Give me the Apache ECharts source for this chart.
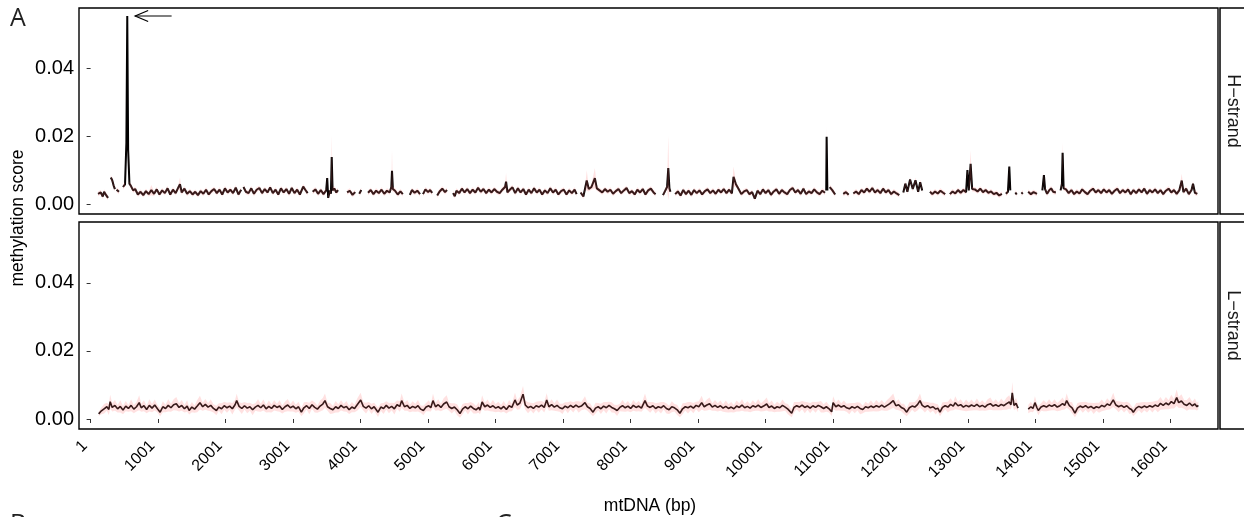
<!DOCTYPE html>
<html><head><meta charset="utf-8">
<script src="https://cdn.jsdelivr.net/npm/echarts@6/dist/echarts.min.js"></script>
<style>html,body{margin:0;padding:0;background:#fff}#c{width:1244px;height:517px}</style>
</head><body><div id="c"></div>
<script>
// ---- data ----
const xTicks = [1,1001,2001,3001,4001,5001,6001,7001,8001,9001,10001,11001,12001,13001,14001,15001,16001];
const yTicks = [0, 0.02, 0.04];
const strandNames = ['H\u2212strand', 'L\u2212strand'];
// [position (bp), methylation score, optional ribbon half-width]; null = gap
const hStrand = [
[110,0.0030],[150,0.0034],[180,0.0022],[200,0.0036],[230,0.0026],[258,0.0018],null,
[300,0.0078],[320,0.0070],[340,0.0055],[360,0.0044],null,
[385,0.0042],[420,0.0036],null,
[480,0.0050],[510,0.0058],[530,0.0180],[543,0.0553],[556,0.0160],[575,0.0060],[600,0.0052],[630,0.0040],[660,0.0044],[700,0.0028],[740,0.0036],[780,0.0026],[820,0.0038],[860,0.0029],[900,0.0041,0.0015],[940,0.0030],[980,0.0043],[1020,0.0028],[1060,0.0040],[1100,0.0032],[1140,0.0046],[1180,0.0028],[1220,0.0042],[1260,0.0032],[1300,0.0049],[1324,0.0058,0.002],[1350,0.0034],[1390,0.0045],[1430,0.0030],[1470,0.0038],[1510,0.0028],[1550,0.0036],[1590,0.0026],[1630,0.0038],[1670,0.0030],[1710,0.0042],[1750,0.0028],[1790,0.0038],[1830,0.0044],[1870,0.0032],[1910,0.0042],[1950,0.0028],[1990,0.0046],[2030,0.0034],[2070,0.0042],[2110,0.0032],[2150,0.0048],[2190,0.0028],[2230,0.0042],null,
[2265,0.0050],[2300,0.0036],[2340,0.0032],[2380,0.0046],[2420,0.0030],[2460,0.0042],[2500,0.0047],[2540,0.0032],[2580,0.0044],[2620,0.0034],[2660,0.0049],[2700,0.0032],[2740,0.0042],[2780,0.0028],[2820,0.0046],[2860,0.0034],[2900,0.0044],[2940,0.0030],[2980,0.0047],[3020,0.0032],[3060,0.0042],[3100,0.0028],[3150,0.0051],[3180,0.0042],[3215,0.0032],null,
[3290,0.0036],[3330,0.0043],[3370,0.0030],[3410,0.0041],[3450,0.0029],[3490,0.0040],[3505,0.0076],[3520,0.0018],[3545,0.0040],[3560,0.0030],[3572,0.0138,0.0065],[3585,0.0040],[3610,0.0046],[3640,0.0034],[3665,0.0041],null,
[3800,0.0034],[3840,0.0039],[3880,0.0027],[3920,0.0035],null,
[3980,0.0030],[4010,0.0041],null,
[4110,0.0033],[4150,0.0041],[4190,0.0029],[4230,0.0039],[4270,0.0032],[4310,0.0042],[4350,0.0030],[4390,0.0039],[4430,0.0034],[4455,0.0050],[4465,0.0098,0.006],[4478,0.0044],[4510,0.0039],[4550,0.0028],[4590,0.0037],[4625,0.0029],null,
[4730,0.0027],[4760,0.0041],[4800,0.0033],[4840,0.0039],[4880,0.0029],null,
[4925,0.0029],[4960,0.0043],[5000,0.0035],[5030,0.0041],[5060,0.0033],null,
[5135,0.0025],[5170,0.0037],[5210,0.0045],[5250,0.0035],[5280,0.0041],null,
[5370,0.0032],[5395,0.0023],[5420,0.0039],[5460,0.0032],[5500,0.0045],[5540,0.0034],[5580,0.0044],[5620,0.0032],[5660,0.0042],[5700,0.0034],[5740,0.0048],[5780,0.0036],[5820,0.0044],[5860,0.0032],[5900,0.0042],[5940,0.0034],[5980,0.0044],[6020,0.0036],[6060,0.0032],[6100,0.0042],[6140,0.0050],[6155,0.0066,0.0025],[6175,0.0034],[6210,0.0042],[6250,0.0049],[6290,0.0032],[6330,0.0046],[6370,0.0034],[6410,0.0044],[6450,0.0028],[6490,0.0042],[6530,0.0032],[6570,0.0046],[6610,0.0034],[6650,0.0042],[6690,0.0028],[6730,0.0040],[6770,0.0032],[6810,0.0046],[6850,0.0034],[6890,0.0042],[6930,0.0028],[6970,0.0038],[7010,0.0042],[7050,0.0028],[7090,0.0040],[7130,0.0032],[7170,0.0042],[7200,0.0029],null,
[7260,0.0034],[7300,0.0022],[7330,0.0050],[7350,0.0069,0.003],[7380,0.0044],[7420,0.0050],[7470,0.0076,0.003],[7500,0.0046],[7540,0.0040],[7580,0.0034],[7620,0.0044],[7660,0.0036],[7700,0.0042],[7740,0.0030],[7780,0.0038],[7820,0.0044],[7860,0.0032],[7900,0.0040],[7940,0.0047],[7980,0.0032],[8020,0.0038],[8060,0.0028],[8100,0.0042],[8140,0.0034],[8180,0.0044],[8220,0.0028],[8260,0.0040],[8300,0.0045],[8340,0.0034],[8370,0.0029],null,
[8480,0.0026],[8510,0.0038],[8540,0.0050],[8558,0.0106,0.0095],[8575,0.0046],[8590,0.0036],null,
[8660,0.0029],[8700,0.0037],[8740,0.0025],[8780,0.0041],[8820,0.0029],[8860,0.0039],[8900,0.0027],[8940,0.0041],[8980,0.0032],[9020,0.0040],[9060,0.0028],[9100,0.0038],[9140,0.0043],[9180,0.0032],[9220,0.0040],[9260,0.0030],[9300,0.0042],[9340,0.0034],[9380,0.0044],[9420,0.0032],[9460,0.0042],[9500,0.0031],[9525,0.0080,0.003],[9560,0.0058],[9600,0.0044],[9640,0.0029],[9680,0.0037],[9720,0.0041],[9760,0.0029],[9800,0.0035],[9840,0.0016],[9880,0.0039],[9920,0.0029],[9960,0.0043],[10000,0.0032],[10040,0.0041],[10080,0.0027],[10120,0.0037],[10160,0.0043],[10200,0.0030],[10240,0.0041],[10280,0.0034],[10320,0.0029],[10360,0.0041],[10400,0.0047],[10440,0.0034],[10480,0.0041],[10520,0.0030],[10560,0.0045],[10600,0.0029],[10640,0.0037],[10680,0.0032],[10720,0.0043],[10760,0.0034],[10800,0.0029],[10840,0.0039],[10880,0.0033],null,
[10898,0.0040],[10904,0.0198,0.003],[10915,0.0040],null,
[10950,0.0050],[10990,0.0040],[11030,0.0028],null,
[11150,0.0030],[11190,0.0035],[11230,0.0027],null,
[11300,0.0031],[11340,0.0037],[11380,0.0029],[11420,0.0041],[11460,0.0034],[11500,0.0045],[11540,0.0036],[11580,0.0047],[11620,0.0034],[11660,0.0041],[11700,0.0032],[11740,0.0045],[11780,0.0034],[11820,0.0041],[11860,0.0029],[11900,0.0037],[11940,0.0031],[11980,0.0026],null,
[12040,0.0034],[12070,0.0060],[12100,0.0036],[12140,0.0072],[12180,0.0044],[12220,0.0070],[12260,0.0036],[12290,0.0064],[12320,0.0040],null,
[12435,0.0036],[12470,0.0029],[12510,0.0037],[12550,0.0031],[12590,0.0039],[12630,0.0033],[12660,0.0029],null,
[12730,0.0029],[12770,0.0037],[12810,0.0031],[12850,0.0041],[12890,0.0033],[12930,0.0041],[12970,0.0035],[12990,0.0100],[13010,0.0040],[13037,0.0118,0.004],[13060,0.0044],[13100,0.0043],[13140,0.0037],[13180,0.0045],[13220,0.0035],[13260,0.0041],[13300,0.0033],[13340,0.0037],[13380,0.0029],[13420,0.0033],[13460,0.0025],[13500,0.0030],null,
[13560,0.0030],[13590,0.0036],[13610,0.0110],[13625,0.0040],null,
[13700,0.0034],[13720,0.0028],null,
[13790,0.0030],[13810,0.0034],null,
[13890,0.0036],[13930,0.0029],[13970,0.0035],[14020,0.0030],null,
[14100,0.0040],[14123,0.0085],[14140,0.0044],[14170,0.0030],[14200,0.0040],[14230,0.0046],[14260,0.0036],[14300,0.0034],null,
[14370,0.0040],[14390,0.0060],[14400,0.0151,0.003],[14415,0.0046],[14450,0.0043],[14490,0.0032],[14530,0.0041],[14570,0.0029],[14610,0.0037],[14650,0.0031],[14690,0.0043],[14730,0.0035],[14770,0.0029],[14810,0.0039],[14850,0.0045],[14890,0.0034],[14930,0.0041],[14970,0.0032],[15010,0.0043],[15050,0.0034],[15090,0.0041],[15130,0.0030],[15170,0.0039],[15210,0.0045],[15250,0.0032],[15290,0.0041],[15330,0.0034],[15370,0.0043],[15410,0.0029],[15450,0.0041],[15490,0.0032],[15530,0.0043],[15570,0.0034],[15610,0.0045],[15650,0.0030],[15690,0.0041],[15730,0.0034],[15770,0.0043],[15810,0.0032],[15850,0.0041],[15890,0.0029],[15930,0.0039],[15970,0.0045],[16010,0.0034],[16050,0.0041],[16090,0.0030],[16130,0.0041],[16165,0.0069,0.002],[16190,0.0035],[16230,0.0045],[16270,0.0029],[16310,0.0041],[16332,0.0060],[16360,0.0033],[16395,0.0030]
];
const lStrand = [
[120,0.0015,0.0006],[160,0.0024,0.0010],[200,0.0030,0.0014],[240,0.0036,0.0012],[270,0.0028,0.0016],[290,0.0051,0.0020],[320,0.0034,0.0012],[360,0.0040,0.0016],[400,0.0030,0.0011],[440,0.0037,0.0018],[480,0.0026,0.0012],[520,0.0038,0.0015],[560,0.0031,0.0010],[600,0.0040,0.0017],[640,0.0029,0.0012],[680,0.0036,0.0014],[720,0.0048,0.0022],[750,0.0033,0.0012],[790,0.0039,0.0016],[830,0.0028,0.0011],[870,0.0040,0.0018],[910,0.0032,0.0012],[950,0.0041,0.0016],[990,0.0030,0.0011],
[1030,0.0020,0.0012],[1070,0.0036,0.0016],[1110,0.0031,0.0011],[1150,0.0040,0.0018],[1190,0.0033,0.0012],[1230,0.0042,0.0016],[1270,0.0045,0.0020],[1310,0.0034,0.0012],[1350,0.0040,0.0016],[1390,0.0030,0.0011],[1430,0.0038,0.0017],[1460,0.0025,0.0012],[1500,0.0035,0.0015],[1540,0.0029,0.0011],[1580,0.0038,0.0018],[1620,0.0048,0.0020],[1660,0.0036,0.0012],[1700,0.0043,0.0016],[1740,0.0035,0.0011],[1780,0.0040,0.0017],[1820,0.0031,0.0012],[1864,0.0025,0.0014],[1900,0.0035,0.0011],[1940,0.0030,0.0016],[1980,0.0039,0.0012],
[2020,0.0033,0.0015],[2060,0.0038,0.0011],[2100,0.0030,0.0017],[2140,0.0042,0.0014],[2164,0.0054,0.0020],[2200,0.0037,0.0012],[2240,0.0031,0.0016],[2280,0.0039,0.0011],[2320,0.0032,0.0015],[2360,0.0036,0.0012],[2400,0.0027,0.0016],[2440,0.0035,0.0011],[2480,0.0040,0.0018],[2520,0.0033,0.0012],[2560,0.0041,0.0016],[2600,0.0030,0.0011],[2640,0.0037,0.0017],[2680,0.0031,0.0012],[2720,0.0040,0.0015],[2760,0.0034,0.0011],[2800,0.0038,0.0017],[2840,0.0028,0.0012],[2880,0.0036,0.0015],[2920,0.0041,0.0018],[2960,0.0033,0.0011],
[3000,0.0038,0.0016],[3040,0.0030,0.0012],[3080,0.0036,0.0015],[3122,0.0020,0.0012],[3160,0.0033,0.0016],[3200,0.0039,0.0011],[3240,0.0031,0.0017],[3280,0.0042,0.0012],[3320,0.0034,0.0015],[3360,0.0029,0.0011],[3400,0.0038,0.0016],[3440,0.0044,0.0018],[3472,0.0054,0.0021],[3510,0.0036,0.0012],[3550,0.0031,0.0016],[3590,0.0027,0.0011],[3630,0.0036,0.0017],[3670,0.0031,0.0012],[3710,0.0040,0.0015],[3750,0.0033,0.0011],[3790,0.0037,0.0016],[3830,0.0027,0.0012],[3870,0.0035,0.0015],[3910,0.0031,0.0011],[3950,0.0042,0.0018],
[4001,0.0056,0.0021],[4040,0.0037,0.0012],[4080,0.0032,0.0016],[4120,0.0039,0.0011],[4160,0.0030,0.0015],[4200,0.0036,0.0012],[4258,0.0020,0.0014],[4300,0.0035,0.0011],[4340,0.0031,0.0016],[4380,0.0040,0.0012],[4420,0.0032,0.0015],[4460,0.0037,0.0011],[4500,0.0030,0.0017],[4540,0.0042,0.0012],[4580,0.0037,0.0016],[4608,0.0054,0.0021],[4650,0.0036,0.0012],[4690,0.0040,0.0016],[4730,0.0031,0.0011],[4770,0.0037,0.0015],[4810,0.0033,0.0012],[4850,0.0039,0.0017],[4890,0.0029,0.0011],[4930,0.0025,0.0014],[4970,0.0035,0.0012],
[5010,0.0039,0.0016],[5040,0.0033,0.0011],[5072,0.0054,0.0020],[5110,0.0036,0.0012],[5150,0.0042,0.0016],[5190,0.0034,0.0011],[5230,0.0044,0.0017],[5275,0.0050,0.0020],[5310,0.0036,0.0012],[5350,0.0031,0.0015],[5390,0.0035,0.0011],[5430,0.0027,0.0016],[5472,0.0016,0.0012],[5510,0.0029,0.0015],[5550,0.0036,0.0011],[5590,0.0030,0.0017],[5630,0.0038,0.0012],[5670,0.0031,0.0015],[5710,0.0027,0.0011],[5750,0.0034,0.0016],[5768,0.0026,0.0012],[5800,0.0050,0.0020],[5840,0.0036,0.0012],[5880,0.0041,0.0016],[5920,0.0034,0.0011],[5960,0.0039,0.0017],
[6000,0.0032,0.0012],[6040,0.0036,0.0015],[6080,0.0030,0.0011],[6120,0.0037,0.0016],[6160,0.0028,0.0012],[6200,0.0039,0.0017],[6240,0.0034,0.0011],[6287,0.0056,0.0021],[6320,0.0041,0.0014],[6360,0.0047,0.0018],[6406,0.0073,0.0024],[6440,0.0041,0.0014],[6480,0.0033,0.0016],[6520,0.0037,0.0011],[6560,0.0031,0.0015],[6600,0.0039,0.0012],[6640,0.0035,0.0017],[6680,0.0041,0.0012],[6720,0.0034,0.0015],[6757,0.0056,0.0020],[6790,0.0036,0.0012],[6830,0.0042,0.0016],[6870,0.0035,0.0011],[6910,0.0040,0.0017],[6950,0.0033,0.0012],[6990,0.0030,0.0015],
[7030,0.0038,0.0011],[7070,0.0033,0.0016],[7110,0.0040,0.0012],[7150,0.0034,0.0015],[7190,0.0041,0.0011],[7230,0.0035,0.0017],[7270,0.0038,0.0012],[7324,0.0048,0.0019],[7360,0.0036,0.0012],[7400,0.0031,0.0015],[7443,0.0020,0.0012],[7480,0.0032,0.0016],[7520,0.0036,0.0011],[7560,0.0030,0.0015],[7600,0.0038,0.0012],[7640,0.0033,0.0017],[7680,0.0040,0.0011],[7720,0.0034,0.0015],[7760,0.0030,0.0012],[7800,0.0025,0.0016],[7840,0.0034,0.0011],[7880,0.0039,0.0017],[7920,0.0033,0.0012],[7960,0.0038,0.0015],
[8000,0.0031,0.0011],[8040,0.0040,0.0016],[8080,0.0034,0.0012],[8120,0.0038,0.0015],[8160,0.0032,0.0011],[8213,0.0054,0.0021],[8250,0.0038,0.0012],[8290,0.0034,0.0016],[8330,0.0039,0.0011],[8370,0.0031,0.0015],[8410,0.0036,0.0012],[8450,0.0033,0.0017],[8490,0.0039,0.0011],[8530,0.0031,0.0015],[8570,0.0027,0.0012],[8610,0.0036,0.0016],[8650,0.0033,0.0011],[8690,0.0027,0.0015],[8730,0.0017,0.0012],[8770,0.0030,0.0016],[8810,0.0036,0.0011],[8850,0.0033,0.0017],[8890,0.0038,0.0012],[8930,0.0032,0.0015],[8970,0.0040,0.0011],
[9010,0.0036,0.0016],[9053,0.0048,0.0020],[9090,0.0036,0.0012],[9130,0.0041,0.0016],[9170,0.0045,0.0018],[9210,0.0035,0.0011],[9250,0.0040,0.0016],[9290,0.0034,0.0012],[9330,0.0039,0.0015],[9370,0.0032,0.0011],[9410,0.0037,0.0017],[9450,0.0031,0.0012],[9490,0.0035,0.0015],[9530,0.0030,0.0011],[9570,0.0038,0.0016],[9610,0.0034,0.0012],[9650,0.0041,0.0017],[9690,0.0033,0.0011],[9730,0.0037,0.0015],[9770,0.0032,0.0012],[9810,0.0039,0.0016],[9850,0.0035,0.0011],[9890,0.0041,0.0017],[9930,0.0034,0.0012],[9970,0.0038,0.0015],
[10016,0.0044,0.0019],[10050,0.0034,0.0012],[10090,0.0038,0.0016],[10130,0.0031,0.0011],[10170,0.0036,0.0015],[10210,0.0033,0.0012],[10250,0.0040,0.0017],[10290,0.0035,0.0011],[10330,0.0029,0.0015],[10386,0.0017,0.0012],[10420,0.0034,0.0016],[10460,0.0039,0.0011],[10500,0.0035,0.0015],[10540,0.0041,0.0012],[10580,0.0034,0.0017],[10620,0.0038,0.0011],[10660,0.0032,0.0015],[10700,0.0039,0.0012],[10740,0.0034,0.0016],[10780,0.0040,0.0011],[10820,0.0036,0.0017],[10860,0.0031,0.0012],[10900,0.0036,0.0015],[10940,0.0030,0.0011],[10978,0.0021,0.0012],
[11000,0.0048,0.0019],[11040,0.0036,0.0012],[11080,0.0041,0.0016],[11120,0.0035,0.0011],[11160,0.0039,0.0015],[11200,0.0033,0.0012],[11240,0.0030,0.0016],[11280,0.0036,0.0011],[11320,0.0032,0.0015],[11360,0.0037,0.0012],[11400,0.0031,0.0017],[11440,0.0028,0.0011],[11480,0.0036,0.0015],[11520,0.0033,0.0012],[11560,0.0038,0.0016],[11600,0.0034,0.0011],[11640,0.0039,0.0017],[11680,0.0035,0.0012],[11720,0.0041,0.0015],[11760,0.0035,0.0011],[11800,0.0040,0.0016],[11840,0.0045,0.0018],[11891,0.0054,0.0021],[11930,0.0039,0.0012],[11970,0.0042,0.0016],
[12010,0.0034,0.0011],[12050,0.0030,0.0015],[12090,0.0020,0.0012],[12130,0.0033,0.0016],[12170,0.0038,0.0011],[12210,0.0035,0.0015],[12250,0.0042,0.0017],[12287,0.0054,0.0021],[12320,0.0040,0.0012],[12360,0.0035,0.0016],[12400,0.0039,0.0011],[12440,0.0033,0.0015],[12480,0.0036,0.0012],[12520,0.0029,0.0016],[12550,0.0032,0.0011],[12583,0.0020,0.0012],[12620,0.0034,0.0015],[12660,0.0039,0.0011],[12700,0.0035,0.0016],[12740,0.0043,0.0018],[12780,0.0038,0.0012],[12810,0.0048,0.0019],[12850,0.0039,0.0012],[12890,0.0042,0.0016],[12930,0.0035,0.0011],[12970,0.0040,0.0017],
[13010,0.0036,0.0012],[13050,0.0041,0.0016],[13090,0.0037,0.0011],[13130,0.0043,0.0017],[13170,0.0036,0.0012],[13210,0.0040,0.0015],[13250,0.0035,0.0011],[13290,0.0042,0.0016],[13330,0.0045,0.0018],[13370,0.0038,0.0012],[13410,0.0042,0.0016],[13450,0.0037,0.0011],[13490,0.0043,0.0017],[13530,0.0039,0.0012],[13570,0.0045,0.0018],[13610,0.0050,0.0020],[13635,0.0042,0.0014],[13654,0.0077,0.0032],[13680,0.0040,0.0014],[13710,0.0046,0.0016],[13740,0.0032,0.0012],null,
[13891,0.0029,0.0012],[13930,0.0036,0.0015],[13960,0.0031,0.0011],[13990,0.0048,0.0019],[14020,0.0033,0.0012],[14040,0.0025,0.0014],[14080,0.0035,0.0011],[14120,0.0039,0.0016],[14160,0.0035,0.0012],[14200,0.0041,0.0017],[14240,0.0037,0.0011],[14280,0.0042,0.0016],[14320,0.0035,0.0012],[14360,0.0039,0.0015],[14400,0.0045,0.0018],[14430,0.0040,0.0012],[14460,0.0054,0.0021],[14500,0.0039,0.0012],[14540,0.0033,0.0016],[14583,0.0017,0.0012],[14620,0.0032,0.0015],[14660,0.0038,0.0011],[14700,0.0034,0.0016],[14740,0.0039,0.0012],[14780,0.0033,0.0015],[14820,0.0037,0.0011],[14860,0.0031,0.0016],[14900,0.0036,0.0012],[14940,0.0033,0.0015],[14980,0.0040,0.0017],
[15020,0.0036,0.0011],[15060,0.0044,0.0017],[15100,0.0040,0.0012],[15150,0.0056,0.0021],[15190,0.0041,0.0012],[15230,0.0036,0.0016],[15270,0.0040,0.0011],[15310,0.0034,0.0015],[15350,0.0039,0.0012],[15390,0.0031,0.0016],[15420,0.0028,0.0011],[15447,0.0020,0.0012],[15490,0.0032,0.0015],[15530,0.0037,0.0011],[15570,0.0033,0.0016],[15610,0.0038,0.0012],[15650,0.0034,0.0015],[15690,0.0039,0.0011],[15730,0.0035,0.0016],[15770,0.0041,0.0012],[15810,0.0037,0.0017],[15850,0.0046,0.0019],[15890,0.0040,0.0012],[15930,0.0047,0.0018],[15970,0.0042,0.0013],[16010,0.0051,0.0020],[16050,0.0045,0.0014],[16090,0.0063,0.0024],[16120,0.0048,0.0016],[16160,0.0053,0.0020],[16200,0.0043,0.0013],[16240,0.0040,0.0016],[16280,0.0047,0.0018],[16320,0.0039,0.0012],[16360,0.0044,0.0016],[16390,0.0036,0.0011],[16410,0.0040,0.0012]
];
const hDefaultBand = 0.0007;   // faint ribbon where none is readable
const arrowNote = { fromBp: 1200, toBp: 660, y: 0.0553 };

// ---- helpers ----
function lineData(arr) {
  return arr.map(p => p === null ? ['-', '-'] : [p[0], p[1]]);
}
function segments(arr, defBand) {
  const segs = []; let cur = [];
  arr.forEach(p => {
    if (p === null) { if (cur.length) segs.push(cur); cur = []; }
    else { const b = p.length > 2 ? p[2] : defBand; cur.push([p[0], p[1] - b, p[1] + b]); }
  });
  if (cur.length) segs.push(cur);
  return segs;
}
function ribbonSeries(segs, idx) {
  return {
    type: 'custom', xAxisIndex: idx, yAxisIndex: idx, z: 3, silent: true, clip: true,
    data: segs.map((s, i) => [s[0][0], s[0][1], i]),
    encode: { x: 0, y: 1 },
    renderItem: function (params, api) {
      const s = segs[params.dataIndex];
      const top = s.map(q => api.coord([q[0], q[2]]));
      const bot = s.map(q => api.coord([q[0], q[1]])).reverse();
      return { type: 'polygon', shape: { points: top.concat(bot) },
        style: { fill: 'rgba(255,120,120,0.22)' } };
    }
  };
}

const chart = echarts.init(document.getElementById('c'), null, { renderer: 'canvas' });
const FONT = 'Liberation Sans, Arial, Helvetica, sans-serif';
const grids = [
  { left: 79, top: 8, width: 1139, height: 206 },
  { left: 79, top: 222, width: 1139, height: 207 }
];
const yMins = [-0.00294, -0.00294], yMaxs = [0.05765, 0.0579];

const option = {
  animation: false,
  backgroundColor: '#fff',
  grid: grids.map(g => Object.assign({ show: true, borderColor: '#000', borderWidth: 1.4, backgroundColor: '#fff' }, g)),
  xAxis: [0, 1].map(i => ({
    gridIndex: i, type: 'value', min: -172, max: 16702,
    axisLine: { show: false }, splitLine: { show: false },
    axisTick: { show: i === 1, customValues: xTicks, length: 4, lineStyle: { color: '#333', width: 1 } },
    axisLabel: { show: i === 1, customValues: xTicks, rotate: 45, margin: 20, fontSize: 16, color: '#000', fontFamily: FONT,
      verticalAlign: 'bottom', formatter: v => String(v) }
  })),
  yAxis: [0, 1].map(i => ({
    gridIndex: i, type: 'value', min: yMins[i], max: yMaxs[i],
    axisLine: { show: false }, splitLine: { show: false },
    axisTick: { show: true, customValues: yTicks, length: 4, lineStyle: { color: '#333', width: 1 } },
    axisLabel: { customValues: yTicks, margin: 5, fontSize: 20, color: '#000', fontFamily: FONT,
      formatter: v => v.toFixed(2) }
  })),
  series: [
    { type: 'line', xAxisIndex: 0, yAxisIndex: 0, data: lineData(hStrand), showSymbol: false, symbol: 'none',
      connectNulls: false, lineStyle: { color: '#000', width: 2 }, z: 2, silent: true },
    ribbonSeries(segments(hStrand, hDefaultBand), 0),
    { type: 'line', xAxisIndex: 1, yAxisIndex: 1, data: lineData(lStrand), showSymbol: false, symbol: 'none',
      connectNulls: false, lineStyle: { color: '#000', width: 1.6 }, z: 2, silent: true },
    ribbonSeries(segments(lStrand, 0.0012), 1)
  ]
};
chart.setOption(option);

// annotations, strips and titles
const p1 = chart.convertToPixel({ gridIndex: 0 }, [arrowNote.fromBp, arrowNote.y]);
const p2 = chart.convertToPixel({ gridIndex: 0 }, [arrowNote.toBp, arrowNote.y]);
const graphics = [
  { type: 'polyline', shape: { points: [p1, p2] }, style: { stroke: '#000', lineWidth: 1.2, fill: null }, z: 10 },
  { type: 'polyline', shape: { points: [[p2[0] + 13, p2[1] - 5.5], p2, [p2[0] + 13, p2[1] + 5.5]] }, style: { stroke: '#000', lineWidth: 1.2, fill: null }, z: 10 }
];
grids.forEach((g, i) => {
  graphics.push({ type: 'rect', shape: { x: 1220, y: g.top, width: 40, height: g.height },
    style: { fill: '#fff', stroke: '#000', lineWidth: 1.5 }, z: 5 });
  graphics.push({ type: 'text', x: 1233, y: g.top + g.height / 2, rotation: -Math.PI / 2,
    style: { text: strandNames[i], font: '18px ' + FONT, fill: '#1a1a1a', align: 'center', verticalAlign: 'middle' }, z: 6 });
});
graphics.push({ type: 'text', x: 18, y: 218, rotation: Math.PI / 2,
  style: { text: 'methylation score', font: '17.5px ' + FONT, fill: '#000', align: 'center', verticalAlign: 'middle' } });
graphics.push({ type: 'text', x: 650, y: 506,
  style: { text: 'mtDNA (bp)', font: '17.5px ' + FONT, fill: '#000', align: 'center', verticalAlign: 'middle' } });
graphics.push({ type: 'text', x: 10, y: 19,
  style: { text: 'A', font: '25px "Open Sans", sans-serif', fill: '#222', align: 'left', verticalAlign: 'middle' } });
graphics.push({ type: 'text', x: 10, y: 525,
  style: { text: 'B', font: '25px "Open Sans", sans-serif', fill: '#222', align: 'left', verticalAlign: 'middle' } });
graphics.push({ type: 'text', x: 496, y: 525,
  style: { text: 'C', font: '25px "Open Sans", sans-serif', fill: '#222', align: 'left', verticalAlign: 'middle' } });
chart.setOption({ graphic: graphics });
</script></body></html>
